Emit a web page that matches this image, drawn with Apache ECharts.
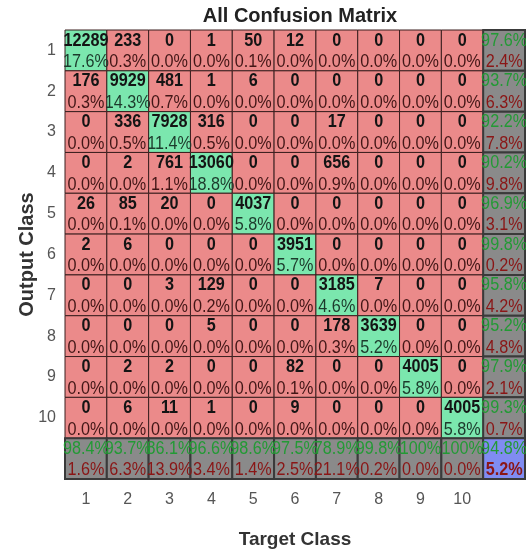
<!DOCTYPE html>
<html><head><meta charset="utf-8">
<script src="https://cdn.jsdelivr.net/npm/echarts@6/dist/echarts.min.js"></script>
<style>html,body{margin:0;padding:0;background:#fff}#c{width:526px;height:554px}</style>
</head><body><div id="c"></div>
<script>
const classes = ['1','2','3','4','5','6','7','8','9','10'];
// rows = Output Class, columns = Target Class
const counts = [
  [12289, 233, 0, 1, 50, 12, 0, 0, 0, 0],
  [176, 9929, 481, 1, 6, 0, 0, 0, 0, 0],
  [0, 336, 7928, 316, 0, 0, 17, 0, 0, 0],
  [0, 2, 761, 13060, 0, 0, 656, 0, 0, 0],
  [26, 85, 20, 0, 4037, 0, 0, 0, 0, 0],
  [2, 6, 0, 0, 0, 3951, 0, 0, 0, 0],
  [0, 0, 3, 129, 0, 0, 3185, 7, 0, 0],
  [0, 0, 0, 5, 0, 0, 178, 3639, 0, 0],
  [0, 2, 2, 0, 0, 82, 0, 0, 4005, 0],
  [0, 6, 11, 1, 0, 9, 0, 0, 0, 4005]
];
const rowCorrect = [97.6, 93.7, 92.2, 90.2, 96.9, 99.8, 95.8, 95.2, 97.9, 99.3];
const rowWrong   = [2.4, 6.3, 7.8, 9.8, 3.1, 0.2, 4.2, 4.8, 2.1, 0.7];
const colCorrect = [98.4, 93.7, 86.1, 96.6, 98.6, 97.5, 78.9, 99.8, 100, 100];
const colWrong   = [1.6, 6.3, 13.9, 3.4, 1.4, 2.5, 21.1, 0.2, 0.0, 0.0];
const overallCorrect = 94.8;
const overallWrong = 5.2;

const total = counts.flat().reduce((a, b) => a + b, 0);
const fmt = v => (v >= 100 ? '100' : v.toFixed(1)) + '%';

const cats = classes.concat(['']);
const data = [];
for (let r = 0; r < 10; r++) {
  for (let c = 0; c < 10; c++) {
    const v = counts[r][c];
    data.push([c, r, String(v), fmt(v / total * 100), r === c ? 'g' : 'r']);
  }
  data.push([10, r, fmt(rowCorrect[r]), fmt(rowWrong[r]), 's']);
}
for (let c = 0; c < 10; c++) data.push([c, 10, fmt(colCorrect[c]), fmt(colWrong[c]), 's']);
data.push([10, 10, fmt(overallCorrect), fmt(overallWrong), 'b']);

const fills = { g: '#7be7ae', r: '#eb8a8a', s: '#8a8a8a', b: '#808cf2' };
const fontFam = '"Liberation Sans", Arial, Helvetica, sans-serif';
const SX = 0.9;

function renderItem(params, api) {
  const c = api.value(0), r = api.value(1);
  const t = data[params.dataIndex];
  const type = t[4];
  const ctr = api.coord([c, r]);
  const sz = api.size([1, 1]);
  const w = sz[0], h = sz[1];
  const x0 = ctr[0] - w / 2, y0 = ctr[1] - h / 2;
  const summary = type === 's' || type === 'b';
  const topColor = summary ? '#239a35' : '#141414';
  const botColor = summary ? '#8a1616' : (type === 'g' ? '#1d3a2c' : '#421616');
  return {
    type: 'group',
    children: [
      { type: 'rect', shape: { x: x0, y: y0, width: w, height: h },
        style: { fill: fills[type], stroke: summary ? '#3a3a3a' : '#3b1f1f', lineWidth: summary ? 2 : 1 } },
      { type: 'text', z2: 10, x: ctr[0], y: y0 + h * 0.26, scaleX: SX, scaleY: 1,
        style: { x: 0, y: 0, text: t[2], align: 'center', verticalAlign: 'middle',
        fill: topColor, font: (summary ? 'normal ' : 'bold ') + '18px ' + fontFam } },
      { type: 'text', z2: 10, x: ctr[0], y: y0 + h * 0.79, scaleX: SX, scaleY: 1,
        style: { x: 0, y: 0, text: t[3], align: 'center', verticalAlign: 'middle',
        fill: botColor, font: (type === 'b' ? 'bold ' : 'normal ') + '18px ' + fontFam } }
    ]
  };
}

const chart = echarts.init(document.getElementById('c'));
chart.setOption({
  animation: false,
  backgroundColor: '#fff',
  title: { text: 'All Confusion Matrix', left: 295, textAlign: 'center', top: 1,
    textStyle: { fontFamily: fontFam, fontSize: 20, fontWeight: 'bold', color: '#222' } },
  grid: { left: 65, top: 30, width: 460, height: 460 },
  xAxis: { type: 'category', data: cats, position: 'bottom',
    name: 'Target Class', nameLocation: 'middle', nameGap: 51, nameMoveOverlap: false,
    nameTextStyle: { fontFamily: fontFam, fontSize: 19, fontWeight: 'bold', color: '#333' },
    axisLine: { show: false }, axisTick: { show: false }, splitLine: { show: false },
    axisLabel: { margin: 13, fontFamily: fontFam, fontSize: 16, color: '#555' } },
  yAxis: { type: 'category', data: cats, inverse: true,
    name: 'Output Class', nameLocation: 'middle', nameGap: 28, nameRotate: 90, nameMoveOverlap: false,
    nameTextStyle: { fontFamily: fontFam, fontSize: 20, fontWeight: 'bold', color: '#333' },
    axisLine: { show: false }, axisTick: { show: false }, splitLine: { show: false },
    axisLabel: { margin: 9, fontFamily: fontFam, fontSize: 16, color: '#555',
      padding: [4, 0, 0, 0] } },
  series: [{ type: 'custom', renderItem: renderItem, data: data.map(d => [d[0], d[1]]),
    encode: { x: 0, y: 1 }, clip: false }]
});
</script></body></html>
